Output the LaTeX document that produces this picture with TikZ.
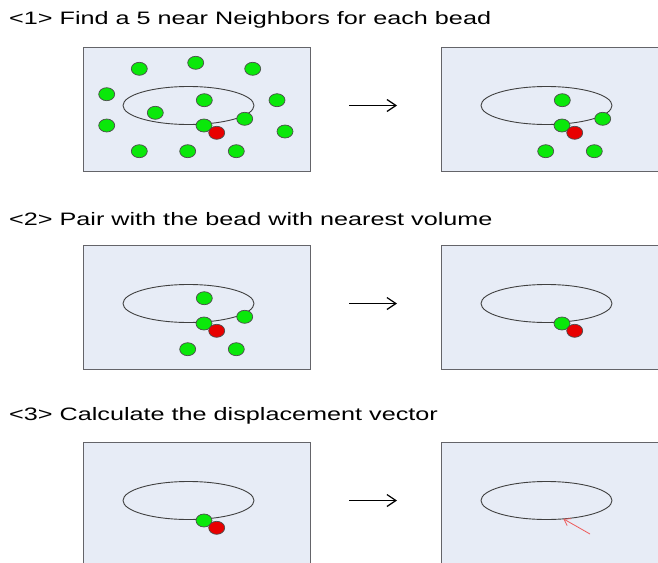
\documentclass[tikz,border=0pt]{standalone}
\usepackage{fontspec}
\setmainfont{Liberation Sans}
\usetikzlibrary{shapes.geometric,calc,arrows.meta}
\definecolor{panelfill}{RGB}{231,236,246}
\definecolor{panelline}{RGB}{100,100,105}
\definecolor{beadgreen}{RGB}{10,232,10}
\definecolor{beadred}{RGB}{232,0,0}
\definecolor{vecred}{RGB}{238,90,90}

\begin{document}
\begin{tikzpicture}[x=1pt,y=-1pt]
    \tikzset{
        panel/.style={draw=panelline, line width=1.4pt, fill=panelfill, minimum width=227, minimum height=124, anchor=north west, inner sep=0},
        loop/.style={draw=black!75, ellipse, line width=0.9pt, minimum width=131, minimum height=38, inner sep=0},
        bead/.style={draw=black!70, ellipse, line width=0.7pt, minimum width=16, minimum height=13, inner sep=0, fill=beadgreen},
        redbead/.style={bead, fill=beadred},
        nextarrow/.style={-{Straight Barb[length=9pt, width=12pt]}, line width=1.2pt},
        vecarrow/.style={-{Straight Barb[length=6pt, width=8pt]}, draw=vecred, line width=0.8pt},
        heading/.style={anchor=base west, inner sep=0, font=\fontsize{18}{21}\selectfont}
    }
    \clip (0,0) rectangle (658,562);
    \fill[white] (0,0) rectangle (658,562);

    % headings
    \node[heading] (h1) at (9,24) {\scalebox{1.4}[1]{<1> Find a 5 near Neighbors for each bead}};
    \node[heading] (h2) at (9,225) {\scalebox{1.4}[1]{<2> Pair with the bead with nearest volume}};
    \node[heading] (h3) at (9,420) {\scalebox{1.4}[1]{<3> Calculate the displacement vector}};

    % panels, loops and arrows between them
    \foreach \r/\y in {1/47, 2/245, 3/442}{
        \node[panel] (pl\r) at (83,\y) {};
        \node[panel] (pr\r) at (441,\y) {};
        \node[loop] (loopl\r) at ($(pl\r.north west)+(105.5,58.5)$) {};
        \node[loop] (loopr\r) at ($(pr\r.north west)+(105.5,58.5)$) {};
        \coordinate (from\r) at ($(pl\r.north east)+(38,58.5)$);
        \coordinate (to\r) at ($(pr\r.north west)+(-44,58.5)$);
        \draw[nextarrow] (from\r) -- (to\r);
    }

    % step 1: all beads
    \foreach \n/\dx/\dy in {%
        a/-49.2/-36.7, b/7.2/-42.7, c/64.2/-36.7, d/-81.8/-11.3, e/15.8/-5.3,
        f/88.5/-5.3, g/-33.2/7.3, h/-81.8/20, i/15.5/20, j/56.2/13.3,
        k/96.5/26, l/-49.2/45.7, m/-0.8/45.7, n/47.8/45.7%
    }{
        \node[bead] (all\n) at ($(loopl1)+(\dx,\dy)$) {};
    }
    \node[redbead] (red1) at ($(loopl1)+(28.2,27.3)$) {};

    % five neighbors (step 1 right, step 2 left)
    \foreach \p/\q in {loopr1/1, loopl2/2}{
        \foreach \n/\dx/\dy in {%
            a/15.8/-5.3, b/15.5/20, c/56.2/13.3, d/-0.8/45.7, e/47.8/45.7%
        }{
            \node[bead] (nb\q\n) at ($(\p)+(\dx,\dy)$) {};
        }
        \node[redbead] (nbred\q) at ($(\p)+(28.2,27.3)$) {};
    }

    % pair (step 2 right, step 3 left)
    \foreach \p/\q in {loopr2/1, loopl3/2}{
        \node[bead] (pair\q) at ($(\p)+(15.5,20)$) {};
        \node[redbead] (pairred\q) at ($(\p)+(28.2,27.3)$) {};
    }

    % displacement vector
    \coordinate (vecstart) at ($(loopr3)+(43.5,33.5)$);
    \coordinate (vecend) at ($(loopr3)+(16.8,18.3)$);
    \draw[vecarrow] (vecstart) -- (vecend);
\end{tikzpicture}
\end{document}
